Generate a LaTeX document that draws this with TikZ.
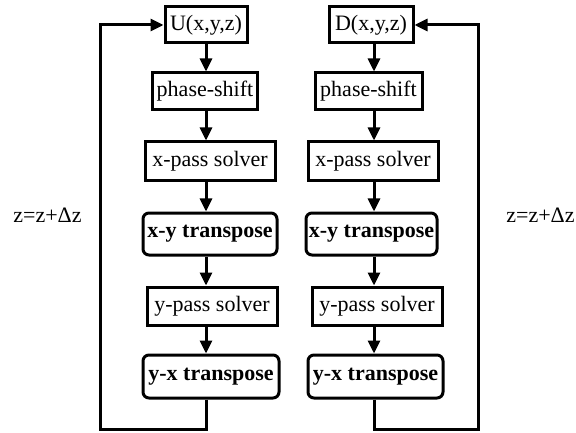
\documentclass[tikz,border=0pt]{standalone}
\usepackage{fontspec}
\setmainfont{Liberation Serif}
\usetikzlibrary{arrows.meta,calc}
\begin{document}
\begin{tikzpicture}[x=1pt,y=-1pt,
  line width=3pt,
  plainbox/.style={draw,rectangle,inner sep=0pt,font=\fontsize{22}{24}\selectfont},
  tbox/.style={plainbox,rounded corners=6pt,font=\fontsize{22}{24}\selectfont\bfseries},
  arr/.style={-{Triangle[length=13pt,width=12pt]}},
  lbl/.style={font=\fontsize{22}{24}\selectfont,inner sep=0pt}]
  \useasboundingbox (0,0) rectangle (576,433);

  % column axes for the vertical arrows
  \coordinate (cl) at (206,0);
  \coordinate (cr) at (374,0);

  % left chain
  \node[plainbox,minimum width=82pt,minimum height=36pt] (U)   at (206,25)    {U(x,y,z)};
  \node[plainbox,minimum width=105pt,minimum height=37pt] (psl) at (205,91.5)  {phase-shift};
  \node[plainbox,minimum width=130pt,minimum height=39pt] (xpl) at (210,161.5) {x-pass solver};
  \node[tbox,minimum width=134pt,minimum height=42pt]     (xyl) at (210,234)   {x-y transpose};
  \node[plainbox,minimum width=130pt,minimum height=38pt] (ypl) at (212,306)   {y-pass solver};
  \node[tbox,minimum width=136pt,minimum height=43pt]     (yxl) at (211,376.5) {y-x transpose};

  % right chain
  \node[plainbox,minimum width=84pt,minimum height=36pt] (D)   at (371,25)    {D(x,y,z)};
  \node[plainbox,minimum width=107pt,minimum height=37pt] (psr) at (368.5,91.5) {phase-shift};
  \node[plainbox,minimum width=130pt,minimum height=39pt] (xpr) at (373,161.5) {x-pass solver};
  \node[tbox,minimum width=131pt,minimum height=42pt]     (xyr) at (371.5,234) {x-y transpose};
  \node[plainbox,minimum width=130pt,minimum height=38pt] (ypr) at (377,306)   {y-pass solver};
  \node[tbox,minimum width=135pt,minimum height=43pt]     (yxr) at (375.5,376.5) {y-x transpose};

  % loop labels
  \node[lbl] (zl) at (47.5,215) {z=z+Δz};
  \node[lbl] (zr) at (540.5,215) {z=z+Δz};

  % downward arrows, left
  \foreach \a/\b in {U/psl,psl/xpl,xpl/xyl,xyl/ypl,ypl/yxl}
    \draw[arr] (\a.south -| cl) -- (\b.north -| cl);
  % downward arrows, right
  \foreach \a/\b in {D/psr,psr/xpr,xpr/xyr,xyr/ypr,ypr/yxr}
    \draw[arr] (\a.south -| cr) -- (\b.north -| cr);

  % feedback loops
  \coordinate (bl) at (100,429);
  \coordinate (br) at (478,429);
  \draw[arr] (yxl.south -| cl) |- (bl) |- (U.west);
  \draw[arr] (yxr.south -| cr) |- (br) |- (D.east);
\end{tikzpicture}
\end{document}
